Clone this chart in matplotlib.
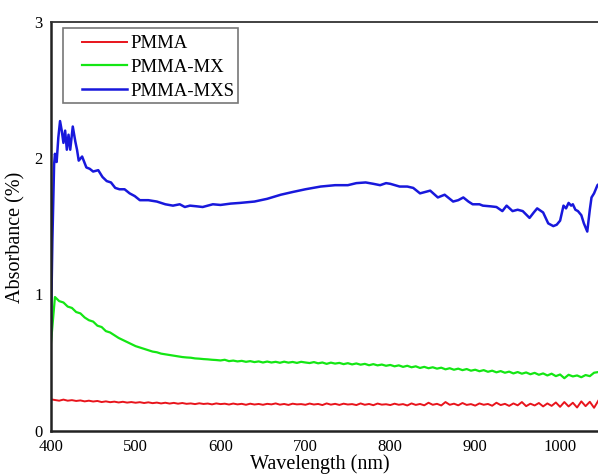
import matplotlib
matplotlib.use("Agg")
import matplotlib.pyplot as plt
from matplotlib.patches import Rectangle

plt.rcParams['font.family'] = ['Liberation Serif', 'DejaVu Serif']

# Wavelength grid for the noisy PMMA / PMMA-MX spectra (5 nm steps)
wl_grid = list(range(400, 1050, 5))

pmma = [
    0.23, 0.225, 0.22, 0.228, 0.22, 0.224, 0.218, 0.222, 0.215, 0.22,
    0.214, 0.218, 0.21, 0.215, 0.209, 0.213, 0.207, 0.212, 0.206, 0.21,
    0.205, 0.209, 0.203, 0.208, 0.202, 0.206, 0.2, 0.205, 0.199, 0.204,
    0.198, 0.203, 0.197, 0.2, 0.195, 0.201, 0.196, 0.199, 0.193, 0.2,
    0.195, 0.198, 0.192, 0.199, 0.193, 0.197, 0.19, 0.198, 0.192, 0.196,
    0.19, 0.197, 0.193, 0.2, 0.191, 0.196, 0.189, 0.198, 0.193, 0.195,
    0.19, 0.199, 0.192, 0.196, 0.188, 0.2, 0.191, 0.197, 0.189, 0.198,
    0.192, 0.195, 0.188, 0.2, 0.19, 0.196, 0.187, 0.199, 0.191, 0.194,
    0.188, 0.198, 0.19, 0.195, 0.185, 0.2, 0.189, 0.196, 0.186, 0.205,
    0.19, 0.197, 0.185, 0.21, 0.19, 0.198, 0.186, 0.203, 0.189, 0.195,
    0.184, 0.2, 0.19, 0.196, 0.183, 0.205, 0.188, 0.197, 0.182, 0.2,
    0.186, 0.21, 0.18, 0.198, 0.185, 0.203, 0.178, 0.2, 0.182, 0.207,
    0.175, 0.21, 0.178, 0.205, 0.17, 0.215, 0.18, 0.212, 0.168, 0.22,
]

pmma_mx = [
    0.62, 0.98, 0.95, 0.94, 0.91, 0.90, 0.87, 0.86, 0.83, 0.81,
    0.80, 0.77, 0.76, 0.73, 0.72, 0.70, 0.68, 0.665, 0.65, 0.635,
    0.62, 0.61, 0.60, 0.59, 0.58, 0.575, 0.565, 0.56, 0.555, 0.55,
    0.545, 0.54, 0.537, 0.535, 0.53, 0.528, 0.525, 0.523, 0.52, 0.518,
    0.515, 0.52, 0.51, 0.514, 0.508, 0.512, 0.505, 0.51, 0.503, 0.508,
    0.50, 0.507, 0.5, 0.505, 0.498, 0.506, 0.499, 0.504, 0.497, 0.505,
    0.50, 0.496, 0.503, 0.494, 0.5, 0.49, 0.499, 0.492, 0.497, 0.488,
    0.495, 0.486, 0.493, 0.484, 0.49, 0.48, 0.488, 0.479, 0.485, 0.476,
    0.482, 0.472, 0.479, 0.468, 0.476, 0.465, 0.472, 0.46, 0.468, 0.458,
    0.465, 0.455, 0.462, 0.45, 0.458, 0.447, 0.455, 0.444, 0.452, 0.44,
    0.447, 0.436, 0.444, 0.432, 0.44, 0.428, 0.437, 0.425, 0.433, 0.42,
    0.43, 0.418, 0.427, 0.414, 0.424, 0.41, 0.42, 0.405, 0.418, 0.40,
    0.412, 0.385, 0.41, 0.398, 0.405, 0.392, 0.408, 0.40, 0.425, 0.43,
]

# PMMA-MXS spectrum (irregular sampling)
wl_mxs = [400, 402, 404, 405, 407, 409, 411, 413, 415, 417, 419, 421, 423, 426,
          429, 431, 433, 437, 442, 446, 450, 456, 461, 466, 471, 476, 481, 487,
          493, 499, 505, 515, 525, 535, 544, 552, 558, 564, 572, 579, 585, 591,
          600, 612, 623, 640, 655, 671, 685, 700, 718, 735, 750, 760, 771, 780,
          788, 795, 800, 811, 820, 827, 835, 841, 847, 856, 864, 874, 880, 886,
          892, 897, 905, 909, 918, 925, 932, 937, 944, 950, 956, 964, 969, 973,
          980, 986, 992, 996, 1000, 1004, 1007, 1010, 1013, 1015, 1018, 1021,
          1025, 1028, 1032, 1035, 1037, 1040, 1044, 1048]
pmma_mxs = [0.63, 1.4, 1.95, 2.03, 1.97, 2.15, 2.27, 2.2, 2.11, 2.2, 2.06, 2.17,
            2.06, 2.23, 2.12, 2.06, 1.98, 2.01, 1.93, 1.92, 1.90, 1.91, 1.86,
            1.83, 1.82, 1.78, 1.77, 1.77, 1.74, 1.72, 1.69, 1.69, 1.68, 1.66,
            1.65, 1.66, 1.64, 1.65, 1.645, 1.64, 1.65, 1.66, 1.655, 1.665, 1.67,
            1.68, 1.70, 1.73, 1.75, 1.77, 1.79, 1.80, 1.80, 1.815, 1.82, 1.81,
            1.80, 1.815, 1.81, 1.79, 1.79, 1.78, 1.74, 1.75, 1.76, 1.71, 1.73,
            1.68, 1.69, 1.71, 1.68, 1.66, 1.66, 1.65, 1.645, 1.64, 1.61, 1.65,
            1.61, 1.62, 1.61, 1.56, 1.6, 1.63, 1.60, 1.52, 1.50, 1.51, 1.54,
            1.65, 1.63, 1.67, 1.65, 1.66, 1.62, 1.61, 1.58, 1.52, 1.46, 1.62,
            1.71, 1.74, 1.80, 1.82]

series_labels = ['PMMA', 'PMMA-MX', 'PMMA-MXS']
y_ticks = [0, 1, 2, 3]
x_ticks = [400, 500, 600, 700, 800, 900, 1000]

W, H = 598, 475
fig = plt.figure(figsize=(W / 100, H / 100), dpi=100)
left_px, bottom_px, top_px = 50.7, 430.7, 21.5
x_min, x_max = 400, 1100
px_per_nm = 0.849
right_px = left_px + (x_max - x_min) * px_per_nm
ax_w = right_px - left_px
ax_h = bottom_px - top_px
ax = fig.add_axes([left_px / W, (H - bottom_px) / H, ax_w / W, ax_h / H])

ax.plot(wl_grid, pmma, color='#e8141c', lw=1.4, label=series_labels[0])
ax.plot(wl_grid, pmma_mx, color='#14e614', lw=1.6, label=series_labels[1])
ax.plot(wl_mxs, pmma_mxs, color='#1818dc', lw=1.8, label=series_labels[2])

ax.set_xlim(x_min, x_max)
ax.set_ylim(0, 3)
ax.set_xticks(x_ticks)
ax.set_yticks(y_ticks)
ax.tick_params(length=0, labelsize=12, pad=6)
for s in ['left', 'bottom']:
    ax.spines[s].set_linewidth(1.8)
    ax.spines[s].set_color('#222222')
ax.spines['top'].set_linewidth(1.3)
ax.spines['top'].set_color('#333333')
ax.spines['right'].set_visible(False)

ax.set_xlabel('Wavelength (nm)', fontsize=14.5)
ax.xaxis.set_label_coords((320 - left_px) / ax_w, -(469 - bottom_px) / ax_h,
                          transform=ax.transAxes)
ax.xaxis.label.set_va('baseline')
ax.set_ylabel('Absorbance (%)', fontsize=14.5)
ax.yaxis.set_label_coords(-(left_px - 25) / ax_w, (bottom_px - 237) / ax_h)

leg = ax.legend(loc='upper left', fontsize=13.5, frameon=False,
                handlelength=2.4, handletextpad=0.2,
                borderpad=0, labelspacing=0.36, borderaxespad=0,
                bbox_to_anchor=((82 - left_px) / ax_w, (bottom_px - 35) / ax_h))
# legend frame
ax.add_patch(Rectangle(((63 - left_px) / ax_w, (bottom_px - 103) / ax_h),
                       (238 - 63) / ax_w, (103 - 28) / ax_h,
                       transform=ax.transAxes, fill=False,
                       edgecolor='#777777', lw=1.2, zorder=5))

fig.savefig('out.png', dpi=100)
